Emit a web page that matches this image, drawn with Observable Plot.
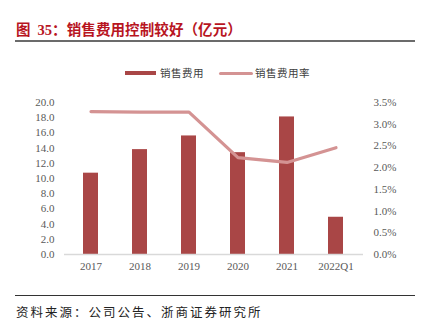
<!DOCTYPE html>
<html><head><meta charset="utf-8">
<script src="https://cdn.jsdelivr.net/npm/d3@7"></script>
<script src="https://cdn.jsdelivr.net/npm/@observablehq/plot@0.6"></script>
<style>
body{margin:0;background:#fff;}
#wrap{position:relative;width:422px;height:332px;overflow:hidden;font-family:"Noto Sans CJK SC",sans-serif;}
#title{position:absolute;left:16px;top:18px;font-size:14.5px;font-weight:bold;color:#b8151f;white-space:pre;letter-spacing:0.1px;}
#title .num{font-family:"Liberation Serif",serif;}
#rule1{position:absolute;left:15px;top:40px;width:400px;height:2px;background:#6b6b6b;}
#legend{position:absolute;left:0;top:65px;width:422px;height:18px;font-size:10.5px;color:#404040;}
.sw{position:absolute;}
.lt{position:absolute;top:0;white-space:nowrap;letter-spacing:0.5px;}
#chart{position:absolute;left:0;top:90px;}
#rule2{position:absolute;left:15px;top:295px;width:400px;height:1px;background:#333;}
#src{position:absolute;left:16px;top:302px;font-size:12.5px;color:#222;white-space:nowrap;letter-spacing:2px;}
</style></head>
<body><div id="wrap">
<div id="title">图  <span class="num">35</span>：销售费用控制较好（亿元）</div>
<div id="rule1"></div>
<div id="legend"></div>
<div id="chart"></div>
<div id="rule2"></div>
<div id="src">资料来源：公司公告、浙商证券研究所</div>
</div>
<script>
const years = ["2017","2018","2019","2020","2021","2022Q1"];
const salesExpense = [10.7, 13.8, 15.6, 13.4, 18.1, 4.9];
const expenseRate = [3.29, 3.28, 3.28, 2.23, 2.12, 2.46];
const leftTicks = [0,2,4,6,8,10,12,14,16,18,20];
const rightTicks = [0,0.5,1,1.5,2,2.5,3,3.5];
const seriesNames = ["销售费用","销售费用率"];

const barColor = "#a94646";
const lineColor = "#d49393";
const k = 20/3.5;
const data = years.map((y,i)=>({year:y, v:salesExpense[i], r:expenseRate[i]*k}));

const chart = Plot.plot({
  width:422, height:190,
  marginTop:12, marginBottom:26, marginLeft:64, marginRight:59,
  style:{fontFamily:"'Liberation Serif', serif", fontSize:"11px", color:"#595959", background:"transparent"},
  x:{domain:years, paddingInner:0.69, paddingOuter:0.345, label:null},
  y:{domain:[0,20], label:null},
  marks:[
    Plot.barY(data,{x:"year", y:"v", fill:barColor}),
    Plot.ruleY([0],{stroke:"#d9d9d9", strokeWidth:1.5}),
    Plot.line(data,{x:"year", y:"r", stroke:lineColor, strokeWidth:3.2, strokeLinejoin:"round"}),
    Plot.axisY({anchor:"left", ticks:leftTicks, tickSize:0, tickPadding:10, tickFormat:d=>d.toFixed(1), label:null}),
    Plot.axisY({anchor:"right", ticks:rightTicks.map(t=>t*k), tickSize:0, tickPadding:10, tickFormat:d=>(d/k).toFixed(1)+"%", label:null}),
    Plot.axisX({tickSize:0, tickPadding:8, label:null})
  ]
});
document.getElementById("chart").appendChild(chart);

const lg = document.getElementById("legend");
lg.innerHTML =
  `<div class="sw" style="left:125px;top:6px;width:31px;height:4px;background:${barColor}"></div>`+
  `<div class="lt" style="left:160px">${seriesNames[0]}</div>`+
  `<div class="sw" style="left:219px;top:6.5px;width:34px;height:3px;border-radius:2px;background:${lineColor}"></div>`+
  `<div class="lt" style="left:255px">${seriesNames[1]}</div>`;
</script>
</body></html>
